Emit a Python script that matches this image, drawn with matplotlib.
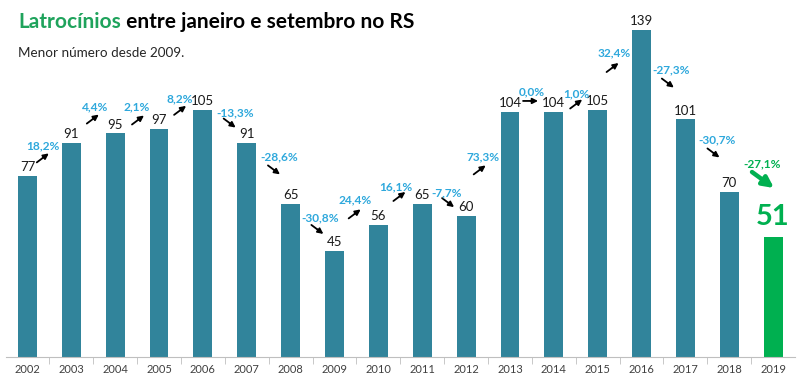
import matplotlib.pyplot as plt
import numpy as np

plt.rcParams['font.family'] = ['Lato', 'DejaVu Sans']

# dados
anos = [str(a) for a in range(2002, 2020)]
valores = [77, 91, 95, 97, 105, 91, 65, 45, 56, 65, 60, 104, 104, 105, 139, 101, 70, 51]

# variação percentual ano a ano (formato brasileiro)
variacoes = []
for ant, atual in zip(valores[:-1], valores[1:]):
    p = (atual / ant - 1) * 100
    variacoes.append(f"{p:.1f}%".replace(".", ","))

# posição das setas (centro, em unidades dos eixos) e deslocamento do texto (px)
seta_x = [0.35, 1.49, 2.52, 3.48, 4.61, 5.62, 6.61, 7.46, 8.48, 9.59,
          10.31, 11.47, 12.51, 13.34, 14.60, 15.64, 16.77]
seta_y = [84.6, 101.1, 100.7, 104.8, 99.4, 79.5, 54.2, 60.8, 68.2, 65.6,
          79.5, 108.8, 107.5, 123.0, 116.4, 86.7, 75.2]
texto_dx = [0, 2, -1, 0, 5.5, 5, 2.5, 0.5, -3.5, -1, 3.5, 1.5, 0, 1.5, 3.5, 3.5, -1]
texto_dy = [12, 12, 13, 11.5, 10, 13, 11.5, 14, 9.5, 9.5, 13, 9, 10, 14.5, 13, 13, 16]

cor_barra = '#31849B'
cor_verde = '#00B050'
cor_titulo = '#1FA35C'
cor_pct = '#2EA8DC'

PX = 0.72  # px -> pt (dpi 100)

fig = plt.figure(figsize=(8, 3.77), dpi=100)
ax = fig.add_axes([0.0069, 0.0531, 0.9869, 0.9363])

x = np.arange(len(anos))
cores = [cor_barra] * (len(anos) - 1) + [cor_verde]
ax.bar(x, valores, width=0.43, color=cores)

ax.set_xlim(-0.5, len(anos) - 0.5)
ax.set_ylim(0, 150)
for s in ['top', 'left', 'right']:
    ax.spines[s].set_visible(False)
ax.spines['bottom'].set_color('#BFBFBF')
ax.set_yticks([])
ax.set_xticks(x, anos, fontsize=8, color='#404040')
ax.tick_params(axis='x', which='major', length=0, pad=5)
ax.set_xticks(x[1:] - 0.5, minor=True)
ax.tick_params(axis='x', which='minor', length=5, color='#BFBFBF', direction='out')

# rótulos de valor
for i, v in enumerate(valores[:-1]):
    ax.annotate(str(v), (i, v), xytext=(0, 2), textcoords='offset points',
                ha='center', va='bottom', fontsize=9.5, color='#1a1a1a')
ax.annotate(str(valores[-1]), (x[-1], valores[-1]), xytext=(0, 5), textcoords='offset points',
            ha='center', va='bottom', fontsize=21, fontweight='bold', color=cor_verde)

# setas e variações
for k, txt in enumerate(variacoes):
    ultimo = k == len(variacoes) - 1
    cx, cy = seta_x[k], seta_y[k]
    d = valores[k + 1] - valores[k]
    if ultimo:
        hx, hy = 11, 8
        cor, lw, ms = cor_verde, 3.2, 16
    else:
        hx, hy = (7.5, 0) if d == 0 else (6, 4.5)
        cor, lw, ms = 'black', 1.3, 8
    sy = 0 if d == 0 else (1 if d > 0 else -1)
    ax.annotate('', xy=(cx, cy), xycoords='data',
                xytext=(hx * PX, sy * hy * PX), textcoords='offset points',
                arrowprops=dict(arrowstyle='<|-', color=cor, lw=lw, mutation_scale=ms,
                                shrinkA=0, shrinkB=0))
    ax.annotate('', xy=(cx, cy), xycoords='data',
                xytext=(-hx * PX, -sy * hy * PX), textcoords='offset points',
                arrowprops=dict(arrowstyle='-', color=cor, lw=lw, shrinkA=0, shrinkB=0))
    ax.annotate(txt, (cx, cy), xytext=(texto_dx[k] * PX, texto_dy[k] * PX),
                textcoords='offset points', ha='center', va='center',
                fontsize=8.6, fontweight='bold', color=cor_verde if ultimo else cor_pct)

# título
t1 = fig.text(18 / 800, 1 - 28 / 377, 'Latrocínios', fontsize=15, fontweight='bold',
              color=cor_titulo, va='baseline')
ax.annotate(' entre janeiro e setembro no RS', xy=(1, 0), xycoords=t1,
            ha='left', va='bottom', fontsize=15, fontweight='bold', color='black',
            annotation_clip=False)
fig.text(18 / 800, 1 - 57 / 377, 'Menor número desde 2009.', fontsize=9.7,
         color='#262626', va='baseline')

fig.savefig('out.png', dpi=100)
